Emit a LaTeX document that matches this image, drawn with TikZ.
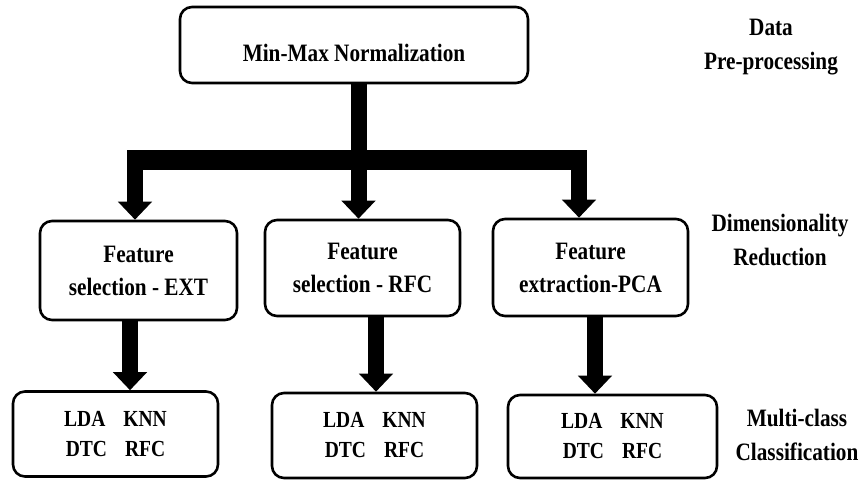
\documentclass[tikz,border=0pt]{standalone}
\usepackage{fontspec}
\setmainfont{Liberation Serif}[FakeStretch=0.85]
\usetikzlibrary{arrows.meta}
\begin{document}
\begin{tikzpicture}[x=1pt,y=-1pt,
  box/.style={draw, line width=2.6pt, rounded corners=12pt, fill=white,
    inner sep=0pt, align=center, font=\bfseries\fontsize{25}{33}\selectfont},
  clsbox/.style={box, font=\bfseries\fontsize{23}{30}\selectfont},
  stage/.style={align=center, inner sep=0pt,
    font=\bfseries\fontsize{25}{34}\selectfont},
  trunk/.style={line width=16pt},
  crossbar/.style={line width=20pt},
  flow/.style={line width=16pt, -{Triangle[width=33pt,length=18pt]}},
]
\useasboundingbox (0,0) rectangle (861,481);

% pre-processing
\node[box, minimum width=348pt, minimum height=76pt,
      text height=55pt, text depth=21pt] (top) at (354,45) {Min-Max Normalization};

% dimensionality reduction
\node[box, minimum width=197pt, minimum height=99pt] (f1) at (138.5,270.5) {Feature\\selection - EXT};
\node[box, minimum width=195pt, minimum height=96pt] (f2) at (362.5,268) {Feature\\selection - RFC};
\node[box, minimum width=195pt, minimum height=97pt] (f3) at (590.5,267.5) {Feature\\extraction-PCA};

% classifiers
\node[clsbox, minimum width=205pt, minimum height=85pt] (c1) at (115.5,434) {LDA\hspace{18pt}KNN\\DTC\hspace{18pt}RFC};
\node[clsbox, minimum width=205pt, minimum height=85pt] (c2) at (374.5,435.5) {LDA\hspace{18pt}KNN\\DTC\hspace{18pt}RFC};
\node[clsbox, minimum width=209pt, minimum height=83pt] (c3) at (612.5,436.5) {LDA\hspace{18pt}KNN\\DTC\hspace{18pt}RFC};

% stage labels
\node[stage] (pre) at (771,47) {Data\\Pre-processing};
\node[stage] (dim) at (780,240) {Dimensionality\\Reduction};
\node[stage] (mc) at (797,435) {Multi-class\\Classification};

% fork from normalization to the three reduction methods
\coordinate (hub) at (358.5,160);
\coordinate (b1) at (135,160);
\coordinate (b3) at (579,160);
\draw[trunk] (top.south -| hub) -- (hub);
\draw[crossbar, shorten <=-8pt, shorten >=-8pt] (b1) -- (b3);
\draw[flow] (b1) -- (f1.north -| b1);
\draw[flow] (hub) -- (f2.north -| hub);
\draw[flow] (b3) -- (f3.north -| b3);

% reduction to classification
\coordinate (d1) at (130,0);
\coordinate (d2) at (376,0);
\coordinate (d3) at (595,0);
\draw[flow] (f1.south -| d1) -- (c1.north -| d1);
\draw[flow] (f2.south -| d2) -- (c2.north -| d2);
\draw[flow] (f3.south -| d3) -- (c3.north -| d3);
\end{tikzpicture}
\end{document}
